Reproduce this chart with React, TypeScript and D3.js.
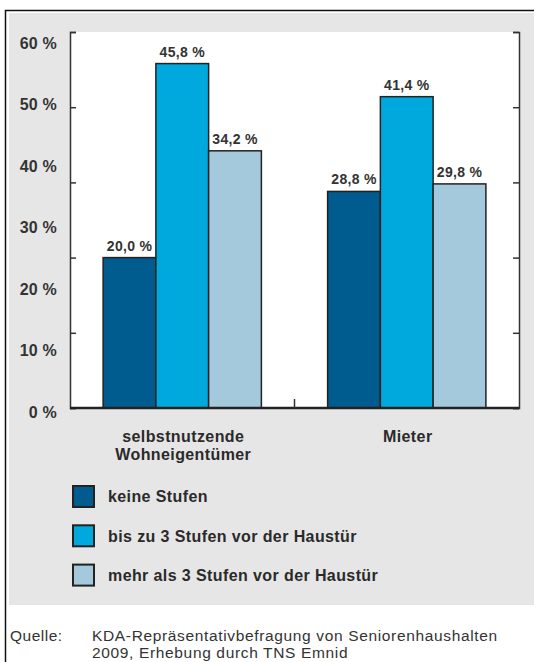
import React, { useEffect, useRef } from "react";
import * as d3 from "d3";

const categories = ["selbstnutzende\nWohneigentümer", "Mieter"];
const seriesNames = [
  "keine Stufen",
  "bis zu 3 Stufen vor der Haustür",
  "mehr als 3 Stufen vor der Haustür",
];
const keineStufen = [20.0, 28.8];
const bisZu3Stufen = [45.8, 41.4];
const mehrAls3Stufen = [34.2, 29.8];
const seriesColors = ["#005b8e", "#00a9dd", "#a4c8dc"];
const yTicks = [0, 10, 20, 30, 40, 50];
const yTickLabels = ["0 %", "10 %", "20 %", "30 %", "40 %", "50 %", "60 %"];
const sourceLabel = "Quelle:";
const sourceLines = [
  "KDA-Repräsentativbefragung von Seniorenhaushalten",
  "2009, Erhebung durch TNS Emnid",
];

const W = 534;
const H = 662;
const FONT = "'Liberation Sans', Arial, Helvetica, sans-serif";

const App: React.FC = () => {
  const svgRef = useRef<SVGSVGElement>(null);

  useEffect(() => {
    if (!svgRef.current) return;
    const svg = d3.select(svgRef.current);
    svg.selectAll("*").remove();

    const plot = { left: 70, right: 519, top: 32, bottom: 408 };
    const series = [keineStufen, bisZu3Stufen, mehrAls3Stufen];

    // frame + grey panel
    svg.append("rect").attr("x", 9).attr("y", 13).attr("width", W - 9).attr("height", 592).attr("fill", "#e6e6e6");
    svg.append("path").attr("d", `M5.5,${H} V10.5 H${W}`).attr("fill", "none").attr("stroke", "#111").attr("stroke-width", 1.5);
    svg.append("rect")
      .attr("x", plot.left).attr("y", plot.top)
      .attr("width", plot.right - plot.left).attr("height", plot.bottom - plot.top)
      .attr("fill", "#fff");

    // scales
    const y = d3.scaleLinear().domain([0, 50]).range([plot.bottom, plot.top]);
    const yLabel = d3.scaleLinear().domain([0, 60]).range([412, 43]);
    const x0 = d3.scaleBand().domain(categories).range([plot.left, plot.right]).padding(0);
    const groupW = x0.bandwidth() * 0.705;
    const x1 = d3
      .scaleBand()
      .domain(seriesNames)
      .range([(x0.bandwidth() - groupW) / 2, (x0.bandwidth() + groupW) / 2])
      .padding(0);

    // bars
    categories.forEach((cat, ci) => {
      const g = svg.append("g").attr("transform", `translate(${x0(cat)},0)`);
      seriesNames.forEach((s, si) => {
        const v = series[si][ci];
        g.append("rect")
          .attr("x", x1(s) || 0)
          .attr("y", y(v))
          .attr("width", x1.bandwidth())
          .attr("height", y(0) - y(v))
          .attr("fill", seriesColors[si])
          .attr("stroke", "#222")
          .attr("stroke-width", 1.5);
        g.append("text")
          .attr("x", (x1(s) || 0) + x1.bandwidth() / 2)
          .attr("y", y(v) - 7)
          .attr("text-anchor", "middle")
          .style("font-family", FONT)
          .style("font-size", "14px")
          .style("font-weight", "bold")
          .style("letter-spacing", "0.3px")
          .style("fill", "#333")
          .text(v.toFixed(1).replace(".", ",") + " %");
      });
    });

    // axes with inward ticks
    const leftAxis = svg.append("g").attr("transform", `translate(${plot.left},0)`)
      .call(d3.axisRight(y).tickValues(yTicks).tickSize(6).tickSizeOuter(6).tickFormat(() => ""));
    const rightAxis = svg.append("g").attr("transform", `translate(${plot.right},0)`)
      .call(d3.axisLeft(y).tickValues(yTicks).tickSize(6).tickSizeOuter(6).tickFormat(() => ""));
    [leftAxis, rightAxis].forEach((a) => {
      a.select(".domain").attr("stroke", "#333").attr("stroke-width", 1.5);
      a.selectAll(".tick line").attr("stroke", "#333").attr("stroke-width", 1.5);
    });

    // baseline and group separator tick
    svg.append("line")
      .attr("x1", plot.left).attr("x2", plot.right)
      .attr("y1", y(0)).attr("y2", y(0))
      .attr("stroke", "#222").attr("stroke-width", 2.5);
    const sepX = (x0(categories[1]) || 0);
    svg.append("line")
      .attr("x1", sepX).attr("x2", sepX)
      .attr("y1", y(0) - 9).attr("y2", y(0))
      .attr("stroke", "#333").attr("stroke-width", 1.5);

    // y labels (placed on their own spacing, as in the original)
    svg.selectAll(".ylab")
      .data(yTickLabels)
      .enter()
      .append("text")
      .attr("class", "ylab")
      .attr("x", 57)
      .attr("y", (_d, i) => yLabel(i * 10))
      .attr("dy", "0.36em")
      .attr("text-anchor", "end")
      .style("font-family", FONT)
      .style("font-size", "16px")
      .style("font-weight", "bold")
      .style("letter-spacing", "0.2px")
      .style("fill", "#333")
      .text((d) => d);

    // category labels
    categories.forEach((cat) => {
      const cx = (x0(cat) || 0) + x0.bandwidth() / 2 + 1;
      const t = svg.append("text")
        .attr("x", cx)
        .attr("y", 442)
        .attr("text-anchor", "middle")
        .style("font-family", FONT)
        .style("font-size", "16px")
        .style("font-weight", "bold")
        .style("letter-spacing", "0.4px")
        .style("fill", "#2a2a2a");
      cat.split("\n").forEach((line, li) => {
        t.append("tspan")
          .attr("x", cx)
          .attr("dy", li === 0 ? 0 : 17.5)
          .text(line);
      });
    });

    // legend
    const legend = svg.append("g").attr("transform", "translate(72,485)");
    seriesNames.forEach((s, i) => {
      const row = legend.append("g").attr("transform", `translate(0,${i * 39.3})`);
      row.append("rect")
        .attr("x", 1).attr("y", 1).attr("width", 21).attr("height", 21)
        .attr("fill", seriesColors[i]).attr("stroke", "#222").attr("stroke-width", 2);
      row.append("text")
        .attr("x", 36).attr("y", 17.3)
        .style("font-family", FONT)
        .style("font-size", "16px")
        .style("font-weight", "bold")
        .style("letter-spacing", "0.4px")
        .style("fill", "#2a2a2a")
        .text(s);
    });

    // source
    svg.append("text")
      .attr("x", 10).attr("y", 641)
      .style("font-family", FONT).style("font-size", "15.5px").style("letter-spacing", "0.5px").style("fill", "#333")
      .text(sourceLabel);
    sourceLines.forEach((line, i) => {
      svg.append("text")
        .attr("x", 92).attr("y", 641 + i * 17)
        .style("font-family", FONT).style("font-size", "15.5px").style("letter-spacing", "0.65px").style("fill", "#333")
        .text(line);
    });
  }, []);

  return (
    <svg
      ref={svgRef}
      width={W}
      height={H}
      style={{ position: "absolute", left: 0, top: 0, display: "block", background: "#fff" }}
    />
  );
};

export default App;
